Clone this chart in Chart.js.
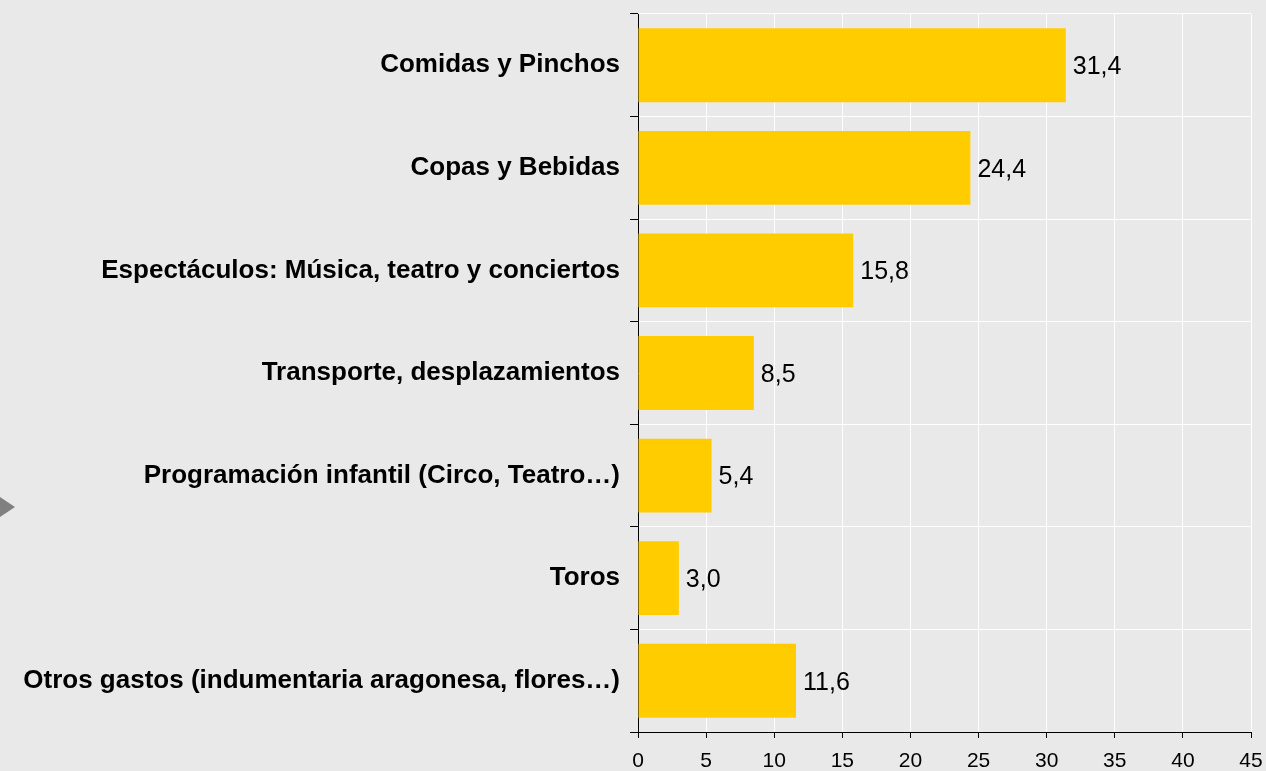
<!DOCTYPE html>
<html>
<head>
<meta charset="utf-8">
<script src="https://cdn.jsdelivr.net/npm/chart.js@4"></script>
<style>
    html, body { margin: 0; padding: 0; background: #e9e9e9; }
    #wrap { position: relative; width: 1266px; height: 771px; }
    #marker {
        position: absolute; left: 0; top: 497px; width: 0; height: 0;
        border-top: 10px solid transparent;
        border-bottom: 10px solid transparent;
        border-left: 15px solid #808080;
    }
</style>
</head>
<body>
<div id="wrap">
    <canvas id="gastoChart" width="1266" height="771"></canvas>
    <div id="marker"></div>
</div>
<script>
const categories = [
    'Comidas y Pinchos',
    'Copas y Bebidas',
    'Espectáculos: Música, teatro y conciertos',
    'Transporte, desplazamientos',
    'Programación infantil (Circo, Teatro…)',
    'Toros',
    'Otros gastos (indumentaria aragonesa, flores…)'
];
const values = [31.4, 24.4, 15.8, 8.5, 5.4, 3.0, 11.6];
const xTicks = [0, 5, 10, 15, 20, 25, 30, 35, 40, 45];

const FONT = "'Liberation Sans', Arial, sans-serif";

// value labels at the end of each bar, with decimal comma
const valueLabels = {
    id: 'valueLabels',
    afterDatasetsDraw(chart) {
        const ctx = chart.ctx;
        const meta = chart.getDatasetMeta(0);
        ctx.save();
        ctx.font = '25px ' + FONT;
        ctx.fillStyle = '#000';
        ctx.textAlign = 'left';
        ctx.textBaseline = 'middle';
        meta.data.forEach((bar, i) => {
            const txt = values[i].toFixed(1).replace('.', ',');
            ctx.fillText(txt, bar.x + 7, bar.y + 2);
        });
        ctx.restore();
    }
};

// drop the label overhang so the plot area lands where the reference has it
function noOverhang(scale) {
    scale.paddingTop = 0;
    scale.paddingRight = 0;
    scale.paddingLeft = 0;
    scale.paddingBottom = 0;
}

const ctx = document.getElementById('gastoChart').getContext('2d');
new Chart(ctx, {
    type: 'bar',
    data: {
        labels: categories,
        datasets: [{
            data: values,
            backgroundColor: '#ffcc00',
            borderWidth: 0,
            categoryPercentage: 1,
            barPercentage: 0.72
        }]
    },
    options: {
        indexAxis: 'y',
        responsive: false,
        animation: false,
        layout: { padding: { top: 14, right: 15, left: 0, bottom: 0 } },
        plugins: {
            legend: { display: false },
            tooltip: { enabled: false }
        },
        scales: {
            x: {
                min: 0,
                max: 45,
                afterBuildTicks: (scale) => {
                    scale.ticks = xTicks.map(v => ({ value: v }));
                },
                afterFit: (scale) => { scale.height = 39; noOverhang(scale); },
                grid: {
                    color: '#ffffff',
                    lineWidth: 1,
                    tickColor: '#000000',
                    tickLength: 6
                },
                border: { color: '#000000', width: 1 },
                ticks: {
                    color: '#000',
                    font: { family: FONT, size: 21 },
                    padding: 11,
                    maxRotation: 0
                }
            },
            y: {
                afterFit: (scale) => { scale.width = 638; noOverhang(scale); },
                grid: {
                    color: '#ffffff',
                    lineWidth: 1,
                    tickColor: '#000000',
                    tickLength: 8,
                    offset: true
                },
                border: { color: '#000000', width: 1 },
                ticks: {
                    color: '#000',
                    font: { family: FONT, size: 26, weight: 'bold' },
                    padding: 10
                }
            }
        }
    },
    plugins: [valueLabels]
});
</script>
</body>
</html>
